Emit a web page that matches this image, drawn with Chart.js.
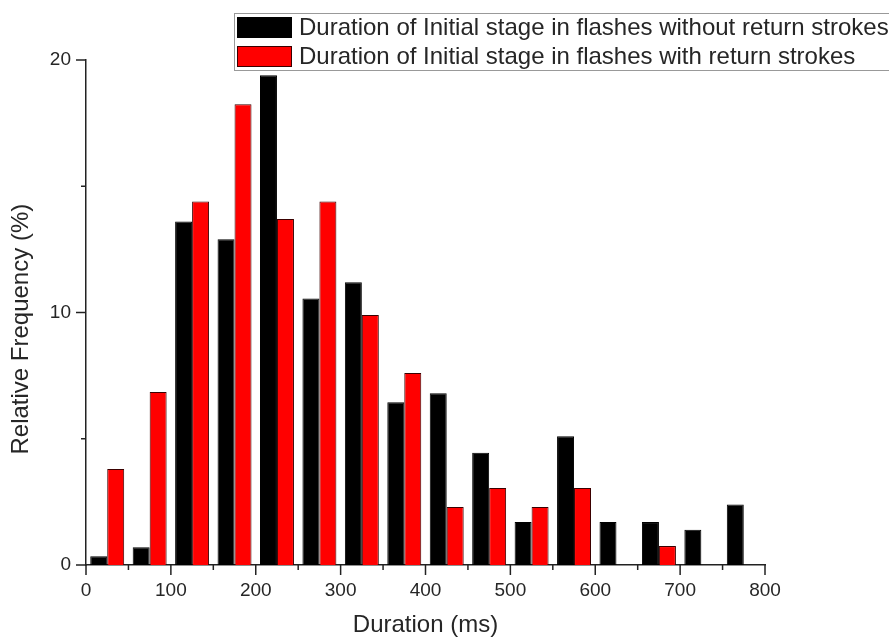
<!DOCTYPE html>
<html>
<head>
<meta charset="utf-8">
<script src="https://cdn.jsdelivr.net/npm/chart.js@4"></script>
<style>
  html, body { margin: 0; padding: 0; background: #fff; }
  #wrap { width: 889px; height: 640px; }
</style>
</head>
<body>
<div id="wrap"><canvas id="histo" width="889" height="640"></canvas></div>
<script>
// bins de 50 ms (début de classe)
const bins = [0, 50, 100, 150, 200, 250, 300, 350, 400, 450, 500, 550, 600, 650, 700, 750];
// sans return strokes (noir)
const withoutRS = [0.35, 0.7, 13.6, 12.9, 19.4, 10.55, 11.2, 6.45, 6.8, 4.45, 1.7, 5.1, 1.7, 1.7, 1.4, 2.4];
// avec return strokes (rouge)
const withRS = [3.8, 6.85, 14.4, 18.25, 13.7, 14.4, 9.9, 7.6, 2.3, 3.05, 2.3, 3.05, null, 0.75, null, null];

const xTicks = [0, 100, 200, 300, 400, 500, 600, 700, 800];
const yTicks = [0, 10, 20];

const labelFont = { family: 'Liberation Sans, Arial, sans-serif', size: 19 };
const titleFont = { family: 'Liberation Sans, Arial, sans-serif', size: 24 };
const txtColor = '#262626';

// ticks majeurs + mineurs dessinés à la main
const tickPlugin = {
  id: 'ticks',
  afterDraw(chart) {
    const c = chart.ctx;
    const xs = chart.scales.x2, ys = chart.scales.y;
    c.save();
    c.strokeStyle = '#222';
    c.lineWidth = 1.5;
    for (let v = 0; v <= 800; v += 50) {
      const px = xs.getPixelForValue(v);
      const len = v % 100 === 0 ? 10 : 5;
      c.beginPath(); c.moveTo(px, ys.bottom); c.lineTo(px, ys.bottom + len); c.stroke();
    }
    for (let v = 0; v <= 20; v += 5) {
      const py = ys.getPixelForValue(v);
      const len = v % 10 === 0 ? 10 : 5;
      c.beginPath(); c.moveTo(xs.left, py); c.lineTo(xs.left - len, py); c.stroke();
    }
    c.restore();
  }
};

// légende encadrée qui déborde à droite, comme l'original
const legendPlugin = {
  id: 'boxLegend',
  afterDraw(chart) {
    const c = chart.ctx;
    c.save();
    c.fillStyle = '#fff';
    c.fillRect(234.5, 13.5, 700, 57);
    c.strokeStyle = '#999';
    c.lineWidth = 1;
    c.strokeRect(234.5, 13.5, 700, 57);
    c.font = '24px "Liberation Sans", Arial, sans-serif';
    c.textBaseline = 'middle';
    chart.data.datasets.forEach((ds, i) => {
      const y = 17 + i * 29;
      c.fillStyle = ds.backgroundColor;
      c.fillRect(237, y, 55, 21);
      c.strokeStyle = ds.borderColor;
      c.strokeRect(237.5, y + 0.5, 54, 20);
      c.fillStyle = txtColor;
      c.fillText(ds.label, 299, y + 11);
    });
    c.restore();
  }
};

new Chart(document.getElementById('histo'), {
  type: 'bar',
  data: {
    labels: bins.map(String),
    datasets: [
      {
        label: 'Duration of Initial stage in flashes without return strokes',
        data: withoutRS,
        backgroundColor: '#000',
        borderColor: '#000',
        borderWidth: 1
      },
      {
        label: 'Duration of Initial stage in flashes with return strokes',
        data: withRS,
        backgroundColor: '#ff0000',
        borderColor: '#3a0000',
        borderWidth: 1
      }
    ]
  },
  options: {
    responsive: false,
    animation: false,
    devicePixelRatio: 1,
    categoryPercentage: 0.8,
    barPercentage: 1.0,
    layout: { padding: { top: 60, right: 124, left: 0, bottom: 0 } },
    plugins: { legend: { display: false }, tooltip: { enabled: false } },
    scales: {
      x: { display: false, offset: true },
      x2: {
        type: 'linear',
        position: 'bottom',
        offset: false,
        min: 0, max: 800,
        afterBuildTicks: s => { s.ticks = xTicks.map(v => ({ value: v })); },
        afterFit: s => { s.height = 75; },
        grid: { display: false, offset: false, drawTicks: true, tickLength: 10 },
        border: { display: true, color: '#222', width: 1.5 },
        ticks: { font: labelFont, color: txtColor, padding: 4, maxRotation: 0 },
        title: { display: true, text: 'Duration (ms)', font: titleFont, color: txtColor, padding: 0 }
      },
      y: {
        min: 0, max: 20,
        afterBuildTicks: s => { s.ticks = yTicks.map(v => ({ value: v })); },
        afterFit: s => { s.width = 86; },
        grid: { display: false, drawTicks: true, tickLength: 10 },
        border: { display: true, color: '#222', width: 1.5 },
        ticks: { font: labelFont, color: txtColor, padding: 5 },
        // espaces en fin de texte : le titre est un peu décalé vers le bas dans l'original
        title: { display: true, text: 'Relative Frequency (%)     ', font: titleFont, color: txtColor, padding: 7 }
      }
    }
  },
  plugins: [tickPlugin, legendPlugin]
});
</script>
</body>
</html>
